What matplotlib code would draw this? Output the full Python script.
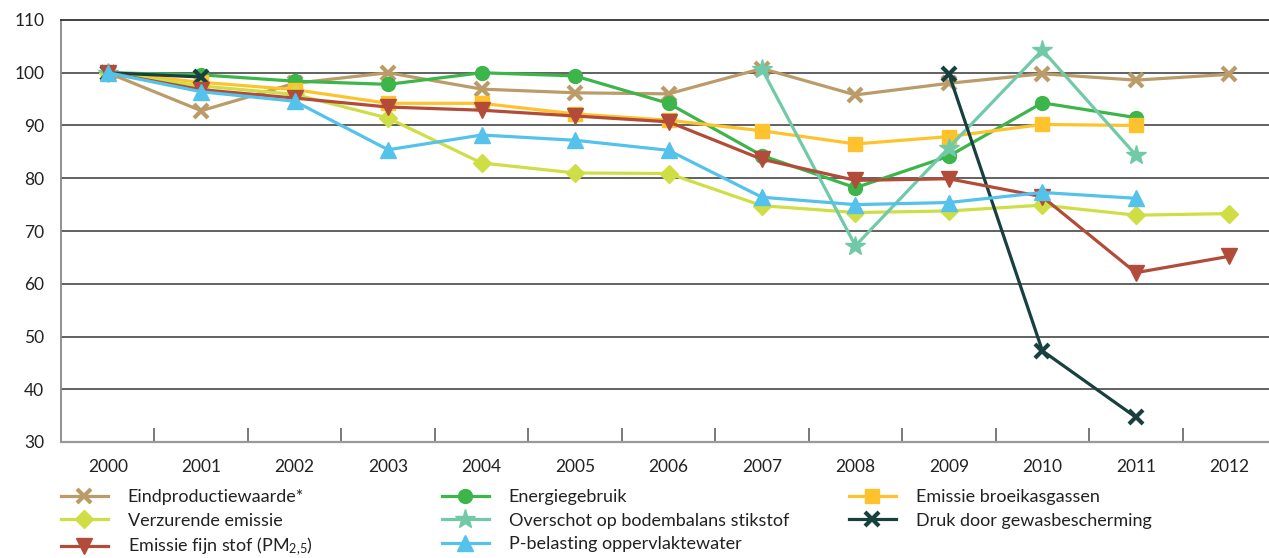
import numpy as np
import matplotlib
matplotlib.use("Agg")
import matplotlib.pyplot as plt

plt.rcParams['font.family'] = ['Lato', 'DejaVu Sans']
plt.rcParams['mathtext.fontset'] = 'custom'
plt.rcParams['mathtext.rm'] = 'Lato'
plt.rcParams['mathtext.it'] = 'Lato'

years = ['2000', '2001', '2002', '2003', '2004', '2005', '2006',
         '2007', '2008', '2009', '2010', '2011', '2012']
nan = np.nan

eindproductie = [100, 92.8, 98.0, 100.0, 96.9, 96.2, 96.0, 100.8, 95.8, 98.0, 99.8, 98.6, 99.7]
energie = [100, 99.6, 98.4, 97.8, 100.0, 99.4, 94.2, 84.3, 78.2, 84.2, 94.3, 91.5, nan]
broeikas = [100, 98.2, 96.8, 94.2, 94.2, 92.2, 91.0, 89.0, 86.5, 87.9, 90.2, 90.0, nan]
verzurend = [100, 97.5, 95.9, 91.4, 82.9, 81.0, 80.9, 74.8, 73.5, 73.8, 74.9, 73.0, 73.3]
stikstof = [100, nan, nan, nan, nan, nan, nan, 100.7, 67.2, 85.8, 104.3, 84.4, nan]
gewas = [100, 99.2, nan, nan, nan, nan, nan, nan, nan, 99.8, 47.3, 34.7, nan]
fijnstof = [100, 96.8, 95.2, 93.5, 92.9, 91.8, 90.7, 83.6, 79.6, 79.9, 76.5, 62.1, 65.2]
pbelasting = [100, 96.4, 94.6, 85.4, 88.2, 87.2, 85.3, 76.4, 75.0, 75.4, 77.3, 76.2, nan]

labels = ['Eindproductiewaarde*', 'Energiegebruik', 'Emissie broeikasgassen',
          'Verzurende emissie', 'Overschot op bodembalans stikstof',
          'Druk door gewasbescherming', 'Emissie fijn stof (PM$_{2{,}5}$)',
          'P-belasting oppervlaktewater']

W, H = 1269, 558
fig = plt.figure(figsize=(W / 100, H / 100), dpi=100)
ax = fig.add_axes([61 / W, 1 - 442 / H, (1276 - 61) / W, (442 - 20) / H])

x = np.arange(len(years))
series = [
    (eindproductie, '#bb9c68', 'x', 10, 3.0, labels[0]),
    (energie, '#3cb54a', 'o', 10, 1.0, labels[1]),
    (broeikas, '#fec32c', 's', 10, 1.0, labels[2]),
    (verzurend, '#cfde45', 'D', 9, 1.0, labels[3]),
    (stikstof, '#70caa8', '*', 15, 1.0, labels[4]),
    (gewas, '#17403f', 'x', 10, 3.0, labels[5]),
    (fijnstof, '#b34b3a', 'v', 11, 1.0, labels[6]),
    (pbelasting, '#54c2ea', '^', 11, 1.0, labels[7]),
]
handles = {}
for vals, col, mk, ms, mew, lab in series:
    ln, = ax.plot(x, vals, color=col, marker=mk, markersize=ms, markeredgewidth=mew,
                  markeredgecolor=col, markerfacecolor=col, linewidth=2.3, label=lab,
                  clip_on=False)
    handles[lab] = ln

ax.set_xlim(-0.5, 12.5)
ax.set_ylim(30, 110)
ax.set_yticks(np.arange(30, 111, 10))
ax.set_xticks(x)
ax.set_xticklabels(years)
ax.set_xticks(np.arange(0.5, 12.5, 1.0), minor=True)

for yv in range(40, 110, 10):
    ax.axhline(yv, color='#555555', linewidth=1.3, zorder=0.5)

ax.tick_params(axis='y', length=0, pad=12, labelsize=12.5, labelcolor='#222222')
ax.tick_params(axis='x', which='major', length=0, pad=12, labelsize=12.5, labelcolor='#222222')
ax.tick_params(axis='x', which='minor', length=10, width=1.1, direction='in', color='#555555')

ax.spines['right'].set_visible(False)
ax.spines['top'].set_color('#333333')
ax.spines['top'].set_linewidth(1.3)
ax.spines['left'].set_color('#888888')
ax.spines['left'].set_linewidth(1.3)
ax.spines['bottom'].set_color('#999999')
ax.spines['bottom'].set_linewidth(1.6)

cols = [
    ([labels[0], labels[3], labels[6]], 61),
    ([labels[1], labels[4], labels[7]], 442),
    ([labels[2], labels[5]], 849),
]
for labs, xpx in cols:
    leg = fig.legend([handles[l] for l in labs], labs, loc='upper left',
                     bbox_to_anchor=(xpx / W, 1 - 489 / H), frameon=False,
                     fontsize=13, handlelength=2.6, handletextpad=1.1,
                     labelspacing=0.42, borderpad=0, borderaxespad=0)
    for t in leg.get_texts():
        t.set_color('#222222')

fig.savefig('out.png', dpi=100)
